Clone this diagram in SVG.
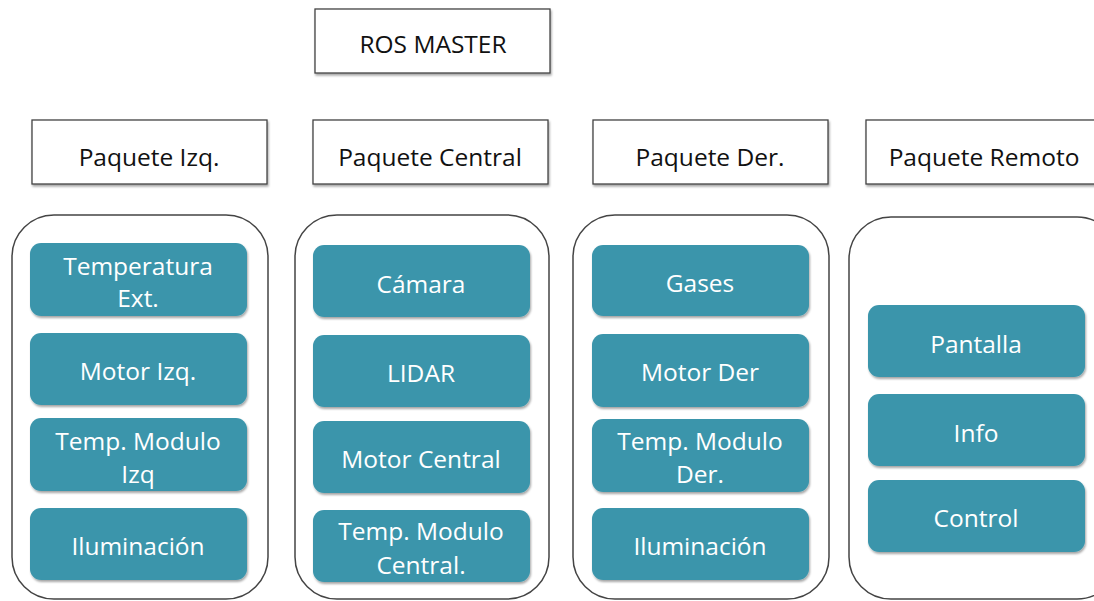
<svg xmlns="http://www.w3.org/2000/svg" width="1094" height="601" viewBox="0 0 1094 601">
<defs>
<filter id="sh" x="-10%" y="-10%" width="130%" height="140%">
<feDropShadow dx="1" dy="2" stdDeviation="1.2" flood-color="#000" flood-opacity="0.35"/>
</filter>
<style>
.hdr{fill:#fff;stroke:#444;stroke-width:1.3;filter:url(#sh)}
.cont{fill:#fff;stroke:#444;stroke-width:1.5}
.node{fill:#3B95AB;filter:url(#sh)}
.ht{font-family:"Open Sans","Liberation Sans",sans-serif;font-size:24.5px;fill:#111;text-anchor:middle;dominant-baseline:central}
.nt{font-family:"Open Sans","Liberation Sans",sans-serif;font-size:24.5px;fill:#fff;text-anchor:middle;dominant-baseline:central}
</style>
</defs>
<rect width="1094" height="601" fill="#fff"/>
<g id="ros-master"><rect class="hdr" x="315" y="9" width="235" height="64"/><text class="ht" x="433" y="43">ROS MASTER</text></g>
<g id="paquete-izq"><rect class="hdr" x="32" y="120" width="235" height="64"/><text class="ht" x="149" y="156">Paquete Izq.</text></g>
<g id="paquete-central"><rect class="hdr" x="313" y="120" width="235" height="64"/><text class="ht" x="430" y="156">Paquete Central</text></g>
<g id="paquete-der"><rect class="hdr" x="593" y="120" width="235" height="64"/><text class="ht" x="710" y="156">Paquete Der.</text></g>
<g id="paquete-remoto"><rect class="hdr" x="866" y="120" width="240" height="64"/><text class="ht" x="984" y="156">Paquete Remoto</text></g>

<g id="cont-izq"><rect class="cont" x="12" y="215" width="256" height="384" rx="42"/></g>
<g id="cont-central"><rect class="cont" x="295" y="215" width="254" height="384" rx="42"/></g>
<g id="cont-der"><rect class="cont" x="573" y="215" width="256" height="384" rx="42"/></g>
<g id="cont-remoto"><rect class="cont" x="849" y="217" width="270" height="382" rx="42"/></g>

<g id="temp-ext"><rect class="node" x="30" y="243" width="217" height="73" rx="11"/><text class="nt" x="138" y="265">Temperatura</text><text class="nt" x="138" y="297">Ext.</text></g>
<g id="motor-izq"><rect class="node" x="30" y="333" width="217" height="72" rx="11"/><text class="nt" x="138" y="370">Motor Izq.</text></g>
<g id="temp-mod-izq"><rect class="node" x="30" y="418" width="217" height="73" rx="11"/><text class="nt" x="138" y="440">Temp. Modulo</text><text class="nt" x="138" y="473">Izq</text></g>
<g id="ilum-izq"><rect class="node" x="30" y="508" width="217" height="72" rx="11"/><text class="nt" x="138" y="545">Iluminación</text></g>

<g id="camara"><rect class="node" x="313" y="245" width="217" height="72" rx="11"/><text class="nt" x="421" y="283">Cámara</text></g>
<g id="lidar"><rect class="node" x="313" y="335" width="217" height="72" rx="11"/><text class="nt" x="421" y="372">LIDAR</text></g>
<g id="motor-central"><rect class="node" x="313" y="421" width="217" height="72" rx="11"/><text class="nt" x="421" y="458">Motor Central</text></g>
<g id="temp-mod-central"><rect class="node" x="313" y="510" width="217" height="72" rx="11"/><text class="nt" x="421" y="530">Temp. Modulo</text><text class="nt" x="421" y="564">Central.</text></g>

<g id="gases"><rect class="node" x="592" y="245" width="217" height="71" rx="11"/><text class="nt" x="700" y="282">Gases</text></g>
<g id="motor-der"><rect class="node" x="592" y="334" width="217" height="73" rx="11"/><text class="nt" x="700" y="371">Motor Der</text></g>
<g id="temp-mod-der"><rect class="node" x="592" y="419" width="217" height="73" rx="11"/><text class="nt" x="700" y="440">Temp. Modulo</text><text class="nt" x="700" y="473">Der.</text></g>
<g id="ilum-der"><rect class="node" x="592" y="508" width="217" height="72" rx="11"/><text class="nt" x="700" y="545">Iluminación</text></g>

<g id="pantalla"><rect class="node" x="868" y="305" width="217" height="72" rx="11"/><text class="nt" x="976" y="343">Pantalla</text></g>
<g id="info"><rect class="node" x="868" y="394" width="217" height="72" rx="11"/><text class="nt" x="976" y="432">Info</text></g>
<g id="control"><rect class="node" x="868" y="480" width="217" height="72" rx="11"/><text class="nt" x="976" y="517">Control</text></g>

<g id="connectors"></g>
</svg>
